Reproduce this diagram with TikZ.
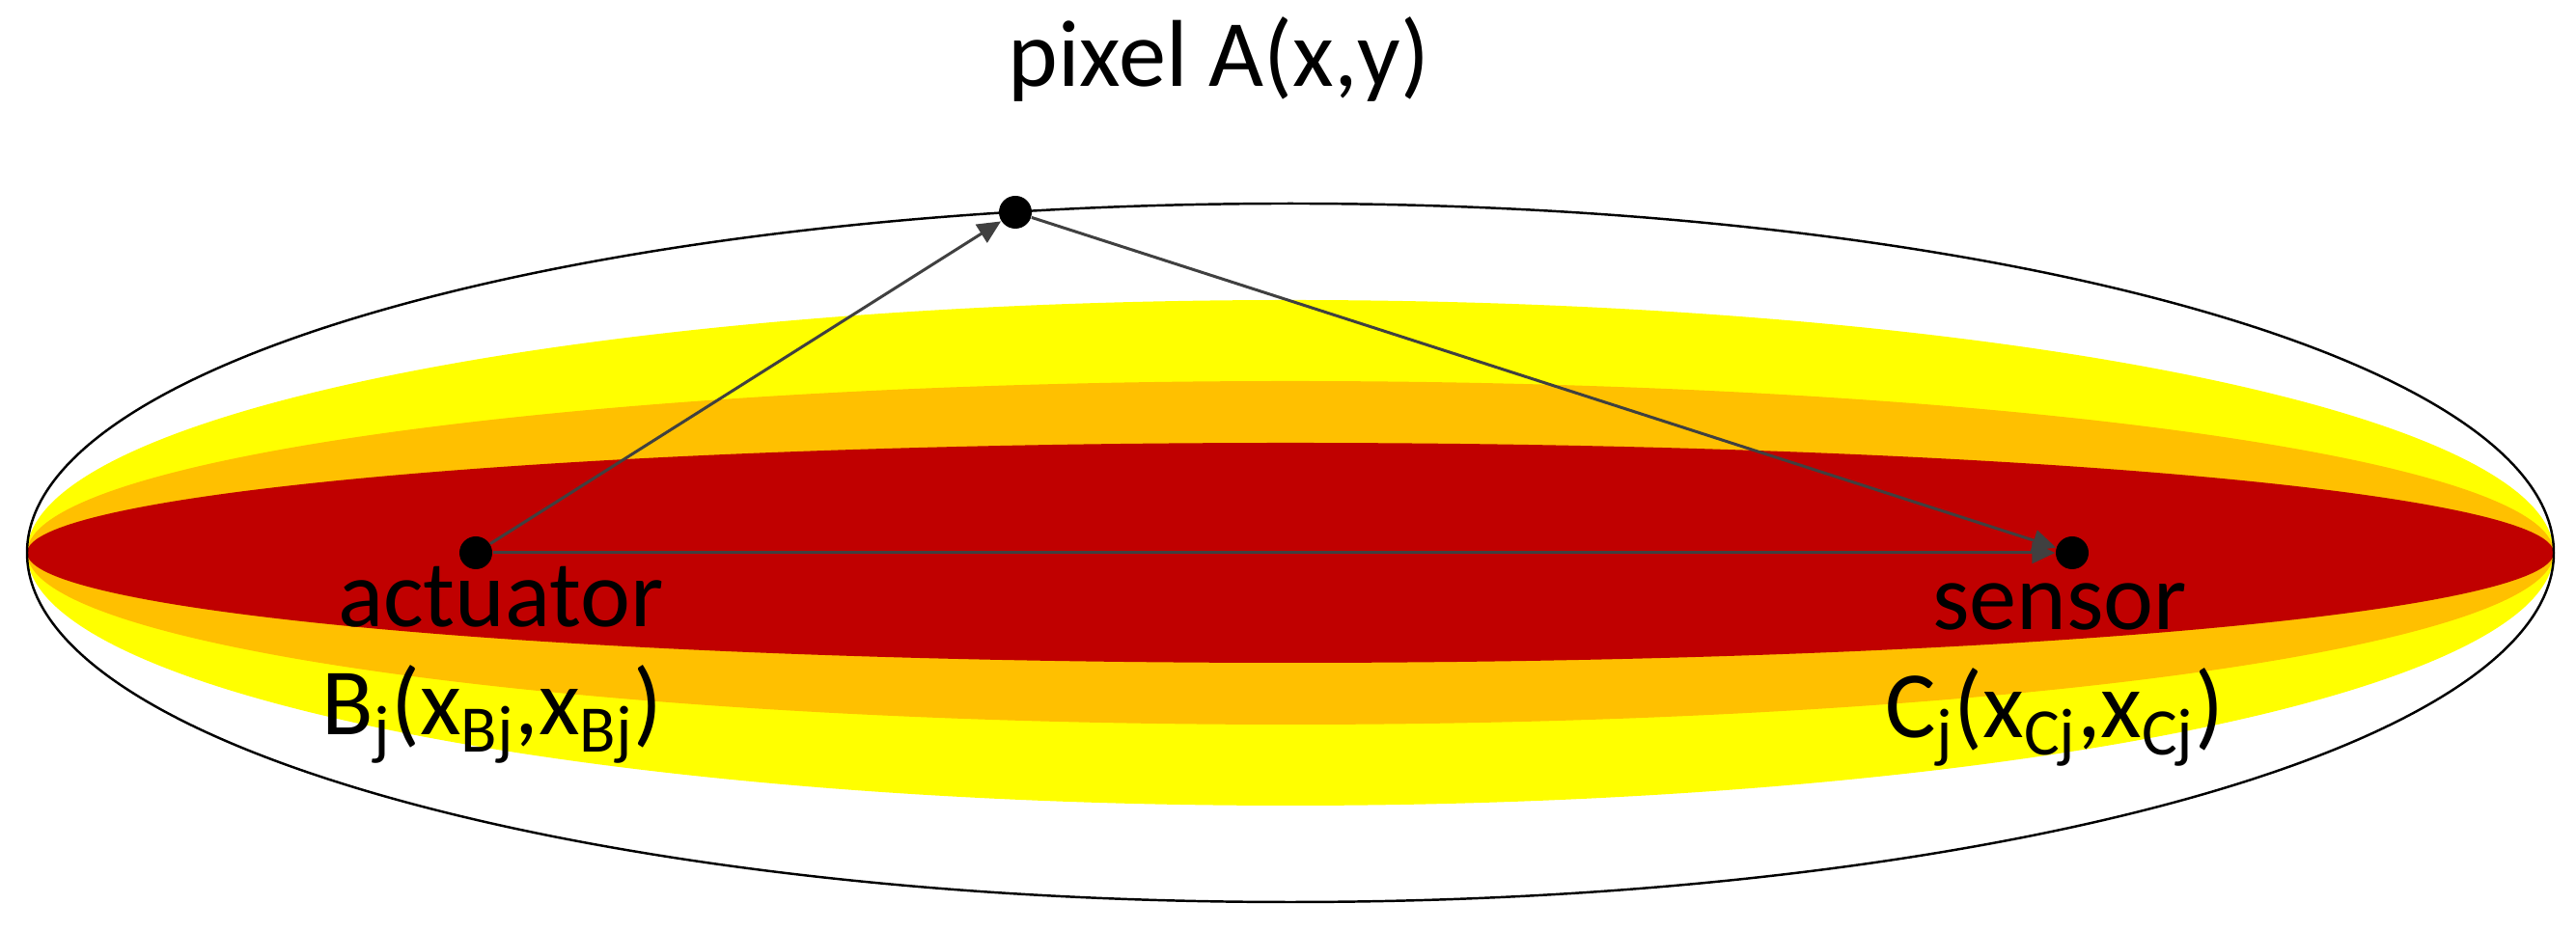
\documentclass[tikz,border=0pt]{standalone}
\usepackage{fontspec}
\setmainfont{Carlito}
\usetikzlibrary{arrows.meta}
\definecolor{bandyellow}{HTML}{FFFF00}
\definecolor{bandorange}{HTML}{FFC000}
\definecolor{bandred}{HTML}{C00000}
\definecolor{rayline}{HTML}{404040}
\tikzset{
  point/.style={circle,fill=black,inner sep=0pt,minimum size=0.34cm},
  ray/.style={rayline,line width=0.85pt,-{Triangle[length=0.24cm,width=0.22cm]}},
  lbl/.style={anchor=base,inner sep=0pt,font=\fontsize{28}{32}\selectfont}
}
\begin{document}
\begin{tikzpicture}
                \useasboundingbox (0,0) rectangle (26.69,9.65);
                \fill[bandyellow] (13.37,3.92) ellipse (13.09 and 2.62);
                \fill[bandorange] (13.37,3.92) ellipse (13.09 and 1.78);
                \fill[bandred] (13.37,3.92) ellipse (13.09 and 1.14);
                \draw[line width=0.7pt] (13.37,3.92) ellipse (13.09 and 3.62);
                \node[point] (A) at (10.52,7.45) {};
                \node[point] (B) at (4.93,3.92) {};
                \node[point] (C) at (21.47,3.92) {};
                \draw[ray] (B) -- (A);
                \draw[ray] (A) -- (C);
                \draw[ray] (B) -- (C);
                \node[lbl] (pixlbl) at (12.63,8.75) {pixel A(x,y)};
                \node[lbl] (actlbl) at (5.19,3.15) {actuator};
                \node[lbl] (Blbl) at (5.10,2.03) {B\textsubscript{j}(x\textsubscript{Bj},x\textsubscript{Bj})};
                \node[lbl] (senlbl) at (21.34,3.12) {sensor};
                \node[lbl] (Clbl) at (21.29,2.00) {C\textsubscript{j}(x\textsubscript{Cj},x\textsubscript{Cj})};
            \end{tikzpicture}
\end{document}
